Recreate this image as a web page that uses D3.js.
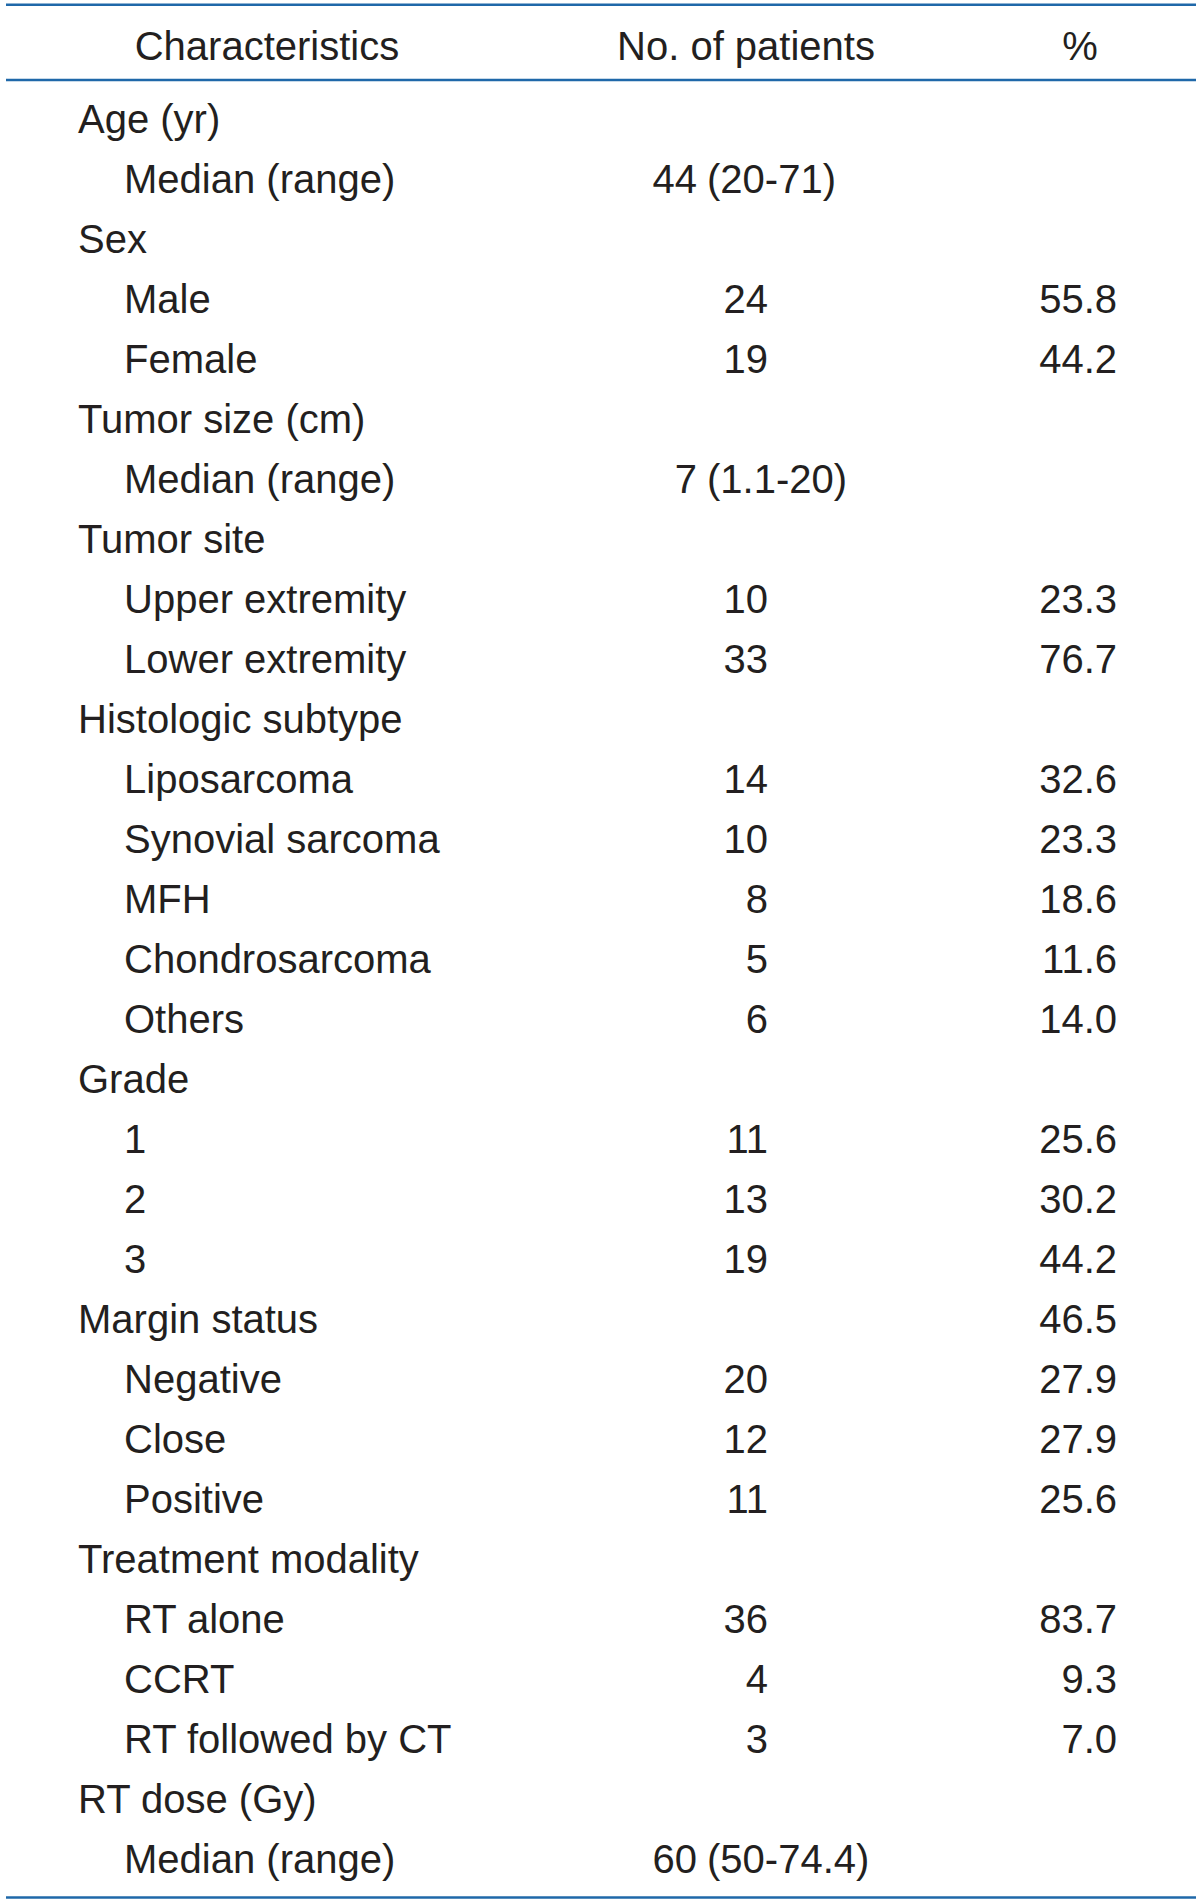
<!DOCTYPE html>
<html>
<head>
<meta charset="utf-8">
<script src="https://cdn.jsdelivr.net/npm/d3@7"></script>
<style>
  body { margin: 0; background: #fff; }
  svg text { font-family: "Liberation Sans", Arial, sans-serif; fill: #231f20; }
</style>
</head>
<body>
<div id="table-area"></div>
<script>
// table content
let headers = ["Characteristics", "No. of patients", "%"];

let rowLabels = ["Age (yr)", "Median (range)", "Sex", "Male", "Female", "Tumor size (cm)", "Median (range)",
    "Tumor site", "Upper extremity", "Lower extremity", "Histologic subtype", "Liposarcoma", "Synovial sarcoma",
    "MFH", "Chondrosarcoma", "Others", "Grade", "1", "2", "3", "Margin status", "Negative", "Close", "Positive",
    "Treatment modality", "RT alone", "CCRT", "RT followed by CT", "RT dose (Gy)", "Median (range)"];

// 0 = group heading, 1 = indented item
let rowLevels = [0, 1, 0, 1, 1, 0, 1, 0, 1, 1, 0, 1, 1, 1, 1, 1, 0, 1, 1, 1, 0, 1, 1, 1, 0, 1, 1, 1, 0, 1];

let patientCounts = ["", "44 (20-71)", "", "24", "19", "", "7 (1.1-20)", "", "10", "33", "", "14", "10",
    "8", "5", "6", "", "11", "13", "19", "", "20", "12", "11", "", "36", "4", "3", "", "60 (50-74.4)"];

let percents = ["", "", "", "55.8", "44.2", "", "", "", "23.3", "76.7", "", "32.6", "23.3",
    "18.6", "11.6", "14.0", "", "25.6", "30.2", "44.2", "46.5", "27.9", "27.9", "25.6", "", "83.7", "9.3", "7.0", "", ""];

let width = 1200, height = 1904;
let fontSize = 40;
let lineColor = "#1f68a9";

let svg = d3.select("#table-area").append("svg")
    .attr("width", width)
    .attr("height", height);

// row baselines
let yRow = d3.scaleLinear().domain([0, rowLabels.length - 1]).range([133, 1873]);

// column anchors
let xIndent = d3.scaleOrdinal().domain([0, 1]).range([78, 124]);
let xHeader = d3.scaleOrdinal().domain(headers).range([267, 746, 1080]);
let xCountEnd = 768;   // right edge of plain counts
let xRangeNum = 697;   // right edge of the number before "(range)"
let xRangeParen = 707; // left edge of "(range)"
let xPctEnd = 1117;

// rules
svg.selectAll(".rule")
    .data([4.7, 80, 1897.5])
    .enter().append("line")
    .attr("class", "rule")
    .attr("x1", 6).attr("x2", 1196)
    .attr("y1", d => d).attr("y2", d => d)
    .style("stroke", lineColor)
    .style("stroke-width", 2.6);

// header
svg.selectAll(".header")
    .data(headers)
    .enter().append("text")
    .attr("class", "header")
    .attr("x", d => xHeader(d))
    .attr("y", 60)
    .attr("text-anchor", "middle")
    .style("font-size", fontSize + "px")
    .text(d => d);

let rows = rowLabels.map((label, i) => ({
    label: label, level: rowLevels[i], count: patientCounts[i], pct: percents[i], i: i
}));

let rowG = svg.selectAll(".row")
    .data(rows)
    .enter().append("g")
    .attr("class", "row")
    .attr("transform", d => `translate(0,${yRow(d.i)})`);

rowG.append("text")
    .attr("x", d => xIndent(d.level))
    .style("font-size", fontSize + "px")
    .text(d => d.label);

// counts: plain numbers right aligned, "n (a-b)" split so the parentheses line up
rowG.filter(d => d.count !== "" && d.count.indexOf("(") < 0)
    .append("text")
    .attr("x", xCountEnd)
    .attr("text-anchor", "end")
    .style("font-size", fontSize + "px")
    .text(d => d.count);

let ranged = rowG.filter(d => d.count.indexOf("(") >= 0);
ranged.append("text")
    .attr("x", xRangeNum)
    .attr("text-anchor", "end")
    .style("font-size", fontSize + "px")
    .text(d => d.count.split(" ")[0]);
ranged.append("text")
    .attr("x", xRangeParen)
    .style("font-size", fontSize + "px")
    .text(d => d.count.slice(d.count.indexOf("(")));

rowG.filter(d => d.pct !== "")
    .append("text")
    .attr("x", xPctEnd)
    .attr("text-anchor", "end")
    .style("font-size", fontSize + "px")
    .text(d => d.pct);
</script>
</body>
</html>
